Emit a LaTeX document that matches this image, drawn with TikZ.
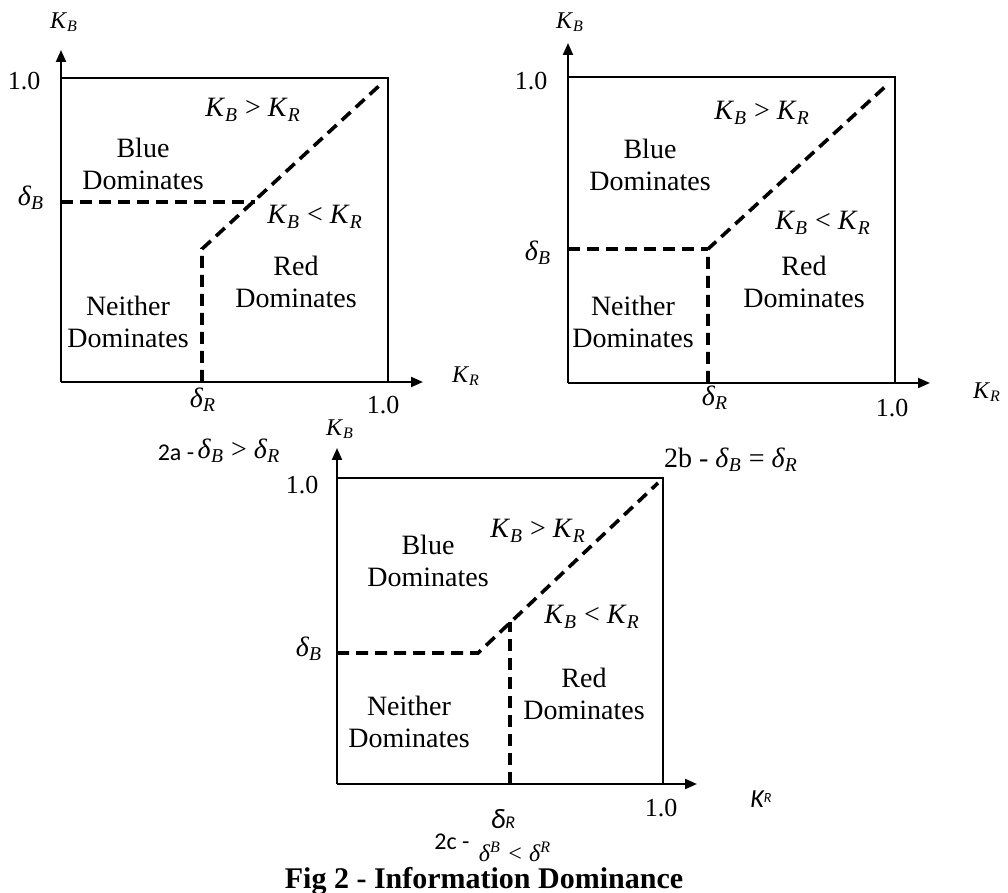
\documentclass[tikz,border=0pt]{standalone}
\usepackage{fontspec}
\setmainfont{Liberation Serif}
\newfontfamily\labelsans{Carlito}
\usetikzlibrary{arrows.meta}
\newcommand{\Kx}[1]{\textit{K}\textsubscript{\textit{#1}}}
\newcommand{\Dx}[1]{\textit{δ}\textsubscript{\textit{#1}}}

\tikzset{
  frame/.style={line width=1pt},
  axis/.style={line width=1pt, -{Triangle[length=6pt,width=5pt]}},
  border/.style={line width=1.8pt, dash pattern=on 6pt off 3.5pt},
  region/.style={align=center, font=\fontsize{14}{16}\selectfont},
  tick/.style={font=\fontsize{13}{15}\selectfont},
  axlabel/.style={font=\fontsize{12}{14}\selectfont},
}

\begin{document}
\begin{tikzpicture}[x=0.5pt,y=-0.5pt]
  \useasboundingbox (0,0) rectangle (1008,893);

  % 2a
  \coordinate (aO) at (61,382);
  \coordinate (aTL) at (61,78);
  \coordinate (aTR) at (388,78);
  \coordinate (aBR) at (388,382);
  \coordinate (aYtip) at (61,50);
  \coordinate (aXtip) at (423,382);
  \coordinate (aDB) at (61,202);
  \coordinate (aDR) at (202,382);
  \coordinate (aMeet) at (255,202);
  \coordinate (aKink) at (202,249);
  \coordinate (aEnd) at (380,85);
  \draw[axis] (aO) -- (aYtip);
  \draw[axis] (aO) -- (aXtip);
  \draw[frame] (aTL) -- (aTR) -- (aBR);
  \draw[border] (aDB) -- (aMeet);
  \draw[border] (aDR) -- (aKink) -- (aEnd);
  \node[axlabel] (aKB) at (64,22) {\Kx{B}};
  \node[axlabel] (aKR) at (466,376) {\Kx{R}};
  \node[tick] (aY1) at (24,81) {1.0};
  \node[tick] (aX1) at (383,405) {1.0};
  \node[region] (aDBl) at (31,198) {\Dx{B}};
  \node[region] (aDRl) at (203,400) {\Dx{R}};
  \node[region] (aGt) at (253,110) {\Kx{B} > \Kx{R}};
  \node[region] (aLt) at (315,217) {\Kx{B} < \Kx{R}};
  \node[region] (aBlue) at (143,164) {Blue\\Dominates};
  \node[region] (aRed) at (296,282) {Red\\Dominates};
  \node[region] (aNone) at (128,322) {Neither\\Dominates};
  \node[font=\labelsans\fontsize{12}{14}\selectfont] (aCapA) at (176,453) {2a -};
  \node[region] (aCapB) at (239,451) {\Dx{B} > \Dx{R}};

  % 2b
  \coordinate (bO) at (568,383);
  \coordinate (bTL) at (568,77);
  \coordinate (bTR) at (895,77);
  \coordinate (bBR) at (895,383);
  \coordinate (bYtip) at (568,43);
  \coordinate (bXtip) at (930,383);
  \coordinate (bDB) at (568,249);
  \coordinate (bDR) at (708,383);
  \coordinate (bKink) at (708,249);
  \coordinate (bEnd) at (887,85);
  \draw[axis] (bO) -- (bYtip);
  \draw[axis] (bO) -- (bXtip);
  \draw[frame] (bTL) -- (bTR) -- (bBR);
  \draw[border] (bDB) -- (bKink);
  \draw[border] (bDR) -- (bKink) -- (bEnd);
  \node[axlabel] (bKB) at (570,22) {\Kx{B}};
  \node[axlabel] (bKR) at (987,392) {\Kx{R}};
  \node[tick] (bY1) at (531,81) {1.0};
  \node[tick] (bX1) at (892,408) {1.0};
  \node[region] (bDBl) at (538,253) {\Dx{B}};
  \node[region] (bDRl) at (715,398) {\Dx{R}};
  \node[region] (bGt) at (762,113) {\Kx{B} > \Kx{R}};
  \node[region] (bLt) at (823,223) {\Kx{B} < \Kx{R}};
  \node[region] (bBlue) at (650,165) {Blue\\Dominates};
  \node[region] (bRed) at (804,282) {Red\\Dominates};
  \node[region] (bNone) at (633,322) {Neither\\Dominates};
  \node[region] (bCap) at (731,460) {2b - \Dx{B} = \Dx{R}};

  % 2c
  \coordinate (cO) at (337,784);
  \coordinate (cTL) at (337,478);
  \coordinate (cTR) at (663,478);
  \coordinate (cBR) at (663,784);
  \coordinate (cYtip) at (337,448);
  \coordinate (cXtip) at (697,784);
  \coordinate (cDB) at (337,653);
  \coordinate (cKink) at (478,653);
  \coordinate (cEnd) at (658,483);
  \coordinate (cDR) at (510,784);
  \coordinate (cMeet) at (510,622);
  \draw[axis] (cO) -- (cYtip);
  \draw[axis] (cO) -- (cXtip);
  \draw[frame] (cTL) -- (cTR) -- (cBR);
  \draw[border] (cDB) -- (cKink) -- (cEnd);
  \draw[border] (cDR) -- (cMeet);
  \node[axlabel] (cKB) at (340,429) {\Kx{B}};
  \node[font=\labelsans\itshape\fontsize{13}{15}\selectfont] (cKR) at (761,799) {K\raisebox{0.35ex}{\scriptsize R}};
  \node[tick] (cY1) at (302,485) {1.0};
  \node[tick] (cX1) at (661,808) {1.0};
  \node[region] (cDBl) at (309,649) {\Dx{B}};
  \node[font=\labelsans\itshape\fontsize{14}{16}\selectfont] (cDRl) at (503,819) {δ{\small R}};
  \node[region] (cGt) at (538,531) {\Kx{B} > \Kx{R}};
  \node[region] (cLt) at (592,617) {\Kx{B} < \Kx{R}};
  \node[region] (cBlue) at (428,561) {Blue\\Dominates};
  \node[region] (cRed) at (584,694) {Red\\Dominates};
  \node[region] (cNone) at (409,722) {Neither\\Dominates};
  \node[font=\labelsans\fontsize{12}{14}\selectfont, inner sep=0pt] (cCapA) at (452,842) {2c -};
  \node[font=\itshape\fontsize{12}{14}\selectfont, inner sep=0pt] (cCapB) at (515,852) {δ\textsuperscript{B} < δ\textsuperscript{R}};

  \node[font=\bfseries\fontsize{15}{18}\selectfont, anchor=base, inner sep=0pt] (fig) at (484,888) {Fig 2 - Information Dominance};
\end{tikzpicture}
\end{document}
